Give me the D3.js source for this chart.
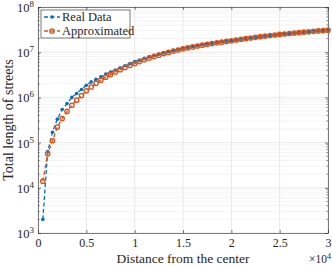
<!DOCTYPE html>
<html>
<head>
<meta charset="utf-8">
<script src="https://cdn.jsdelivr.net/npm/d3@7"></script>
<style>
  body { margin: 0; background: #fff; }
  svg text { font-family: "Liberation Serif", "DejaVu Serif", serif; fill: #262626; }
</style>
</head>
<body>
<svg id="chart"></svg>
<script>
// distance from the center (m)
const distances = d3.range(500, 30001, 500);
// total length of streets, real data (in millions)
const realData = [
  0.002, 0.063, 0.17, 0.33, 0.54, 0.73, 1.0, 1.22, 1.5, 1.85,
  2.2, 2.5, 2.85, 3.3, 3.65, 4.05, 4.5, 5.0, 5.6, 6.2,
  6.7, 7.3, 7.9, 8.5, 9.0, 9.6, 10.2, 10.9, 11.5, 12.2,
  12.8, 13.4, 14.0, 14.6, 15.2, 15.8, 16.4, 17.0, 17.5, 18.0,
  18.7, 19.4, 20.0, 20.6, 21.3, 22.0, 22.7, 23.4, 24.1, 24.8,
  25.4, 26.0, 26.6, 27.2, 27.8, 28.4, 29.0, 29.6, 30.2, 30.8
];
// approximated (in millions)
const approxData = [
  0.014, 0.057, 0.11, 0.22, 0.34, 0.49, 0.67, 0.87, 1.1, 1.4,
  1.7, 2.05, 2.4, 2.8, 3.2, 3.65, 4.1, 4.6, 5.1, 5.6,
  6.2, 6.8, 7.4, 8.0, 8.6, 9.3, 9.9, 10.6, 11.2, 11.9,
  12.5, 13.1, 13.7, 14.3, 14.9, 15.5, 16.1, 16.7, 17.3, 17.9,
  18.6, 19.3, 19.9, 20.6, 21.3, 22.0, 22.7, 23.4, 24.0, 24.7,
  25.3, 25.9, 26.5, 27.1, 27.7, 28.3, 28.9, 29.5, 30.1, 30.7
];
const xTicks = [0, 0.5, 1, 1.5, 2, 2.5, 3];
const yTicks = [3, 4, 5, 6, 7, 8];
const seriesNames = ["Real Data", "Approximated"];
const colors = ["#0072BD", "#D95319"];

const width = 332, height = 266;
const margin = {top: 7, right: 4, bottom: 33, left: 38};
const w = width - margin.left - margin.right;
const h = height - margin.top - margin.bottom;

const svg = d3.select('#chart').attr('width', width).attr('height', height);
const chart = svg.append('g').attr('transform', `translate(${margin.left},${margin.top})`);

const xScale = d3.scaleLinear().domain([0, 30000]).range([0, w]);
const yScale = d3.scaleLog().domain([1e3, 1e8]).range([h, 0]);

// minor grid (log)
const minor = [];
for (let e = 3; e < 8; e++) for (let m = 2; m <= 9; m++) minor.push(m * Math.pow(10, e));
chart.append('g').selectAll('line').data(minor).join('line')
  .attr('x1', 0).attr('x2', w)
  .attr('y1', d => yScale(d)).attr('y2', d => yScale(d))
  .attr('stroke', '#ececec').attr('stroke-width', 0.6);

// major grid
chart.append('g').selectAll('line').data(xTicks).join('line')
  .attr('x1', d => xScale(d * 1e4)).attr('x2', d => xScale(d * 1e4))
  .attr('y1', 0).attr('y2', h)
  .attr('stroke', '#e0e0e0').attr('stroke-width', 0.7);
chart.append('g').selectAll('line').data(yTicks).join('line')
  .attr('x1', 0).attr('x2', w)
  .attr('y1', d => yScale(Math.pow(10, d))).attr('y2', d => yScale(Math.pow(10, d)))
  .attr('stroke', '#e0e0e0').attr('stroke-width', 0.7);

// axes
const xAxis = d3.axisBottom(xScale).tickValues(xTicks.map(d => d * 1e4))
  .tickFormat(d => d / 1e4).tickSizeInner(-3).tickSizeOuter(0).tickPadding(5);
const xAxisTop = d3.axisTop(xScale).tickValues(xTicks.map(d => d * 1e4))
  .tickFormat('').tickSizeInner(-3).tickSizeOuter(0);
const yAxis = d3.axisLeft(yScale).tickValues(yTicks.map(d => Math.pow(10, d)))
  .tickFormat('').tickSizeInner(-3).tickSizeOuter(0);
const yAxisRight = d3.axisRight(yScale).tickValues(yTicks.map(d => Math.pow(10, d)))
  .tickFormat('').tickSizeInner(-3).tickSizeOuter(0);

const axisGroups = [
  chart.append('g').attr('transform', `translate(0,${h})`).call(xAxis),
  chart.append('g').call(xAxisTop),
  chart.append('g').call(yAxis),
  chart.append('g').attr('transform', `translate(${w},0)`).call(yAxisRight)
];
axisGroups.forEach(g => {
  g.selectAll('path').attr('stroke', '#262626').attr('stroke-width', 0.6);
  g.selectAll('line').attr('stroke', '#262626').attr('stroke-width', 0.6);
  g.selectAll('text').style('font-family', '"Liberation Serif", serif').style('font-size', '12px').attr('fill', '#262626');
});

// minor y ticks on both sides
[0, w].forEach(x0 => {
  const dir = x0 === 0 ? 1 : -1;
  chart.append('g').selectAll('line').data(minor).join('line')
    .attr('x1', x0).attr('x2', x0 + dir * 1.6)
    .attr('y1', d => yScale(d)).attr('y2', d => yScale(d))
    .attr('stroke', '#262626').attr('stroke-width', 0.5);
});

// y tick labels 10^n
const yLab = chart.append('g').selectAll('text').data(yTicks).join('text')
  .attr('x', -4).attr('y', d => yScale(Math.pow(10, d)) + 5)
  .attr('text-anchor', 'end').style('font-size', '12.5px');
yLab.append('tspan').text('10');
yLab.append('tspan').attr('dy', -5).style('font-size', '9px').text(d => d);

// series
const realPts = distances.map((d, i) => ({x: d, y: realData[i] * 1e6}));
const approxPts = distances.map((d, i) => ({x: d, y: approxData[i] * 1e6}));
const line = d3.line().x(d => xScale(d.x)).y(d => yScale(d.y));

chart.append('path').datum(realPts).attr('d', line)
  .attr('fill', 'none').attr('stroke', colors[0]).attr('stroke-width', 1.3).attr('stroke-dasharray', '4,2.5');
chart.append('g').selectAll('circle').data(realPts).join('circle')
  .attr('cx', d => xScale(d.x)).attr('cy', d => yScale(d.y)).attr('r', 1.8)
  .attr('fill', colors[0]);

chart.append('path').datum(approxPts).attr('d', line)
  .attr('fill', 'none').attr('stroke', colors[1]).attr('stroke-width', 1.3).attr('stroke-dasharray', '4,2.5');
chart.append('g').selectAll('circle').data(approxPts).join('circle')
  .attr('cx', d => xScale(d.x)).attr('cy', d => yScale(d.y)).attr('r', 2.2)
  .attr('fill', 'none').attr('stroke', colors[1]).attr('stroke-width', 1.3);

// legend
const legend = svg.append('g').attr('transform', 'translate(41,10)');
legend.append('rect').attr('width', 89).attr('height', 28)
  .attr('fill', '#fff').attr('stroke', '#262626').attr('stroke-width', 0.6);
seriesNames.forEach((name, i) => {
  const yy = 7 + i * 14;
  legend.append('line').attr('x1', 3).attr('x2', 19).attr('y1', yy).attr('y2', yy)
    .attr('stroke', colors[i]).attr('stroke-width', 1.3).attr('stroke-dasharray', '4,2.5');
  if (i === 0) {
    legend.append('circle').attr('cx', 11).attr('cy', yy).attr('r', 1.8).attr('fill', colors[i]);
  } else {
    legend.append('circle').attr('cx', 11).attr('cy', yy).attr('r', 2.2)
      .attr('fill', 'none').attr('stroke', colors[i]).attr('stroke-width', 1.3);
  }
  legend.append('text').attr('x', 21).attr('y', yy + 4).style('font-size', '12.5px').text(name);
});

// axis titles
svg.append('text').attr('x', margin.left + w / 2).attr('y', 263)
  .attr('text-anchor', 'middle').style('font-size', '13.5px').text('Distance from the center');
svg.append('text').attr('transform', `translate(13,${margin.top + h / 2}) rotate(-90)`)
  .attr('text-anchor', 'middle').style('font-size', '14px').text('Total length of streets');
const mult = svg.append('text').attr('x', 331).attr('y', 263).attr('text-anchor', 'end').style('font-size', '11.5px');
mult.append('tspan').text('\u00d710');
mult.append('tspan').attr('dy', -4).style('font-size', '8px').text('4');
</script>
</body>
</html>
